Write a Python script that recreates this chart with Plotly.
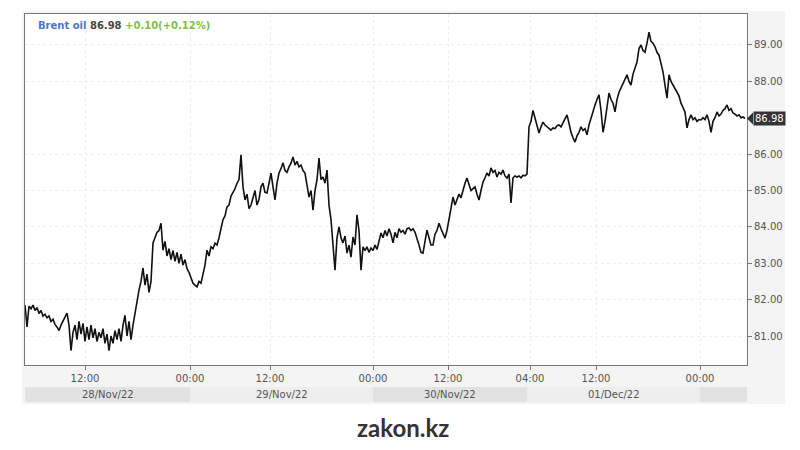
import plotly.graph_objects as go

# Brent oil price, one value per bar (bars are evenly spaced on the axis)
price = [
    81.85, 81.25, 81.82, 81.75, 81.85, 81.70, 81.78, 81.62, 81.70, 81.55,
    81.60, 81.50, 81.55, 81.40, 81.46, 81.32, 81.25, 81.15, 81.30, 81.42,
    81.50, 81.63, 81.30, 80.60, 81.10, 81.30, 80.90, 81.40, 81.05, 81.35,
    80.85, 81.25, 80.90, 81.30, 80.95, 81.20, 80.85, 81.10, 80.95, 81.20,
    80.80, 81.05, 80.60, 81.00, 80.80, 81.15, 80.90, 81.20, 80.85, 81.30,
    81.57, 81.00, 81.40, 80.90, 81.30, 81.66, 81.90, 82.26, 82.50, 82.87,
    82.40, 82.70, 82.20, 82.50, 83.56, 83.70, 83.85, 83.90, 84.10, 83.36,
    83.60, 83.20, 83.40, 83.10, 83.35, 83.05, 83.30, 83.00, 83.25, 82.95,
    83.10, 82.85, 82.75, 82.60, 82.45, 82.40, 82.35, 82.50, 82.45, 82.70,
    82.95, 83.36, 83.20, 83.45, 83.40, 83.55, 83.50, 83.70, 84.00, 84.20,
    84.30, 84.55, 84.60, 84.85, 84.95, 85.05, 85.20, 85.30, 85.98, 85.10,
    84.74, 84.90, 84.50, 84.60, 84.80, 85.00, 84.60, 84.75, 85.10, 85.20,
    84.95, 84.93, 85.20, 85.48, 85.10, 84.74, 85.20, 85.48, 85.60, 85.76,
    85.55, 85.50, 85.65, 85.75, 85.92, 85.70, 85.80, 85.65, 85.70, 85.55,
    85.48, 85.10, 84.82, 85.00, 84.46, 85.00, 85.29, 85.89, 85.30, 85.37,
    85.20, 85.56, 84.60, 84.20, 83.45, 82.81, 83.70, 84.00, 83.70, 83.56,
    83.75, 83.28, 83.50, 83.17, 83.72, 83.50, 84.33, 83.90, 82.81, 83.45,
    83.35, 83.45, 83.30, 83.42, 83.35, 83.50, 83.38, 83.60, 83.83, 83.70,
    83.90, 83.75, 83.95, 83.80, 83.56, 83.85, 83.70, 83.95, 83.85, 83.90,
    83.80, 83.95, 83.97, 83.90, 83.95, 83.85, 83.70, 83.50, 83.30, 83.28,
    83.60, 83.91, 83.70, 83.50, 83.50, 83.80, 83.90, 84.10, 83.95, 83.80,
    83.69, 83.90, 84.19, 84.50, 84.82, 84.60, 84.74, 84.90, 84.80, 85.01,
    85.20, 85.34, 85.15, 85.00, 85.05, 85.10, 84.90, 84.74, 85.00, 85.23,
    85.35, 85.48, 85.40, 85.62, 85.50, 85.55, 85.37, 85.50, 85.45, 85.56,
    85.40, 85.34, 85.45, 84.66, 85.35, 85.40, 85.37, 85.40, 85.35, 85.42,
    85.40, 85.45, 86.75, 86.90, 87.20, 87.00, 86.80, 86.58, 86.75, 86.88,
    86.80, 86.75, 86.70, 86.66, 86.72, 86.70, 86.78, 86.80, 86.75, 86.85,
    86.95, 87.08, 86.85, 86.60, 86.45, 86.33, 86.50, 86.60, 86.75, 86.65,
    86.70, 86.53, 86.80, 87.00, 87.13, 87.35, 87.50, 87.63, 87.20, 86.60,
    86.90, 87.30, 87.68, 87.50, 87.40, 87.16, 87.50, 87.70, 87.82, 87.90,
    88.05, 88.18, 88.00, 87.90, 88.20, 88.40, 88.53, 88.90, 89.00, 88.85,
    88.80, 89.05, 89.35, 89.10, 89.05, 88.95, 88.80, 88.72, 88.50, 88.26,
    87.90, 87.54, 88.18, 88.00, 87.90, 87.80, 87.70, 87.60, 87.40, 87.30,
    87.16, 86.72, 86.95, 87.08, 86.95, 87.00, 86.90, 86.95, 86.94, 87.00,
    86.95, 87.08, 86.90, 86.60, 86.90, 87.00, 87.16, 87.05, 87.10, 87.20,
    87.25, 87.35, 87.20, 87.25, 87.13, 87.10, 87.05, 87.08, 87.00, 87.02,
    86.98,
]
bars = list(range(len(price)))

# x-axis time ticks (bar positions) and labels
tick_bars = [30, 82.5, 122.5, 174, 211.5, 252.5, 285.5, 337.5]
tick_text = ["12:00", "00:00", "12:00", "00:00", "12:00", "04:00", "12:00", "00:00"]

# trading-day bands (bar boundaries) and labels
day_start = [0, 82.5, 174, 251, 337.5]
day_end = [82.5, 174, 251, 337.5, 361]
day_label = ["28/Nov/22", "29/Nov/22", "30/Nov/22", "01/Dec/22", ""]

price_ticks = [81, 82, 83, 84, 85, 86, 88, 89]
last_price = 86.98
change_text = "+0.10(+0.12%)"

X_RANGE = [0, 361]
Y_RANGE = [80.203, 89.852]

W, H = 800, 450
ML, MR, MT, MB = 25, 53, 14, 85
pw, ph = W - ML - MR, H - MT - MB


def px_x(px):
    return (px - ML) / pw


def px_y(py):
    return (H - MB - py) / ph


fig = go.Figure()
fig.add_trace(go.Scatter(
    x=bars, y=price, mode="lines",
    line=dict(color="#111111", width=1.6),
    hoverinfo="skip", showlegend=False,
))

shapes = []
# outer light-grey panel
shapes.append(dict(type="rect", xref="paper", yref="paper",
                   x0=px_x(22), x1=px_x(785), y0=px_y(404), y1=px_y(11),
                   fillcolor="#f4f4f4", line=dict(width=0), layer="below"))
# white plot area
shapes.append(dict(type="rect", xref="paper", yref="paper",
                   x0=0, x1=1, y0=0, y1=1,
                   fillcolor="#ffffff", line=dict(width=0), layer="below"))
# day bands
band_colors = ["#e2e2e2", "#eeeeee", "#e2e2e2", "#eeeeee", "#e2e2e2"]
annotations = []
for s, e, lab, c in zip(day_start, day_end, day_label, band_colors):
    x0 = (s - X_RANGE[0]) / (X_RANGE[1] - X_RANGE[0])
    x1 = (e - X_RANGE[0]) / (X_RANGE[1] - X_RANGE[0])
    shapes.append(dict(type="rect", xref="paper", yref="paper",
                       x0=x0, x1=x1, y0=px_y(402), y1=px_y(387),
                       fillcolor=c, line=dict(width=0), layer="below"))
    if lab:
        annotations.append(dict(x=(x0 + x1) / 2, y=px_y(395), xref="paper", yref="paper",
                                text=lab, showarrow=False,
                                font=dict(family="DejaVu Sans", size=10, color="#555555"),
                                xanchor="center", yanchor="middle"))

# last price marker (arrow box)
yp = (last_price - Y_RANGE[0]) / (Y_RANGE[1] - Y_RANGE[0])
dy = 6 / ph
ax0 = 1.0
ax1 = px_x(753)
shapes.append(dict(type="path", xref="paper", yref="paper",
                   path=f"M {ax0} {yp} L {ax1} {yp + dy} L {ax1} {yp - dy} Z",
                   fillcolor="#333333", line=dict(width=0), layer="above"))
annotations.append(dict(x=ax1, y=yp, xref="paper", yref="paper",
                        text=f"{last_price:.2f}", showarrow=False,
                        bgcolor="#333333", borderpad=1,
                        font=dict(family="DejaVu Sans", size=10, color="#ffffff"),
                        xanchor="left", yanchor="middle"))

# header text
annotations.append(dict(
    x=px_x(36), y=px_y(25), xref="paper", yref="paper",
    text=("<b><span style='color:#4a78c8'>Brent oil</span> "
          f"<span style='color:#444444'>{last_price:.2f}</span> "
          f"<span style='color:#7dbf4a'>{change_text}</span></b>"),
    showarrow=False, xanchor="left", yanchor="middle",
    font=dict(family="DejaVu Sans", size=10),
))

# watermark
annotations.append(dict(
    x=px_x(403), y=px_y(427), xref="paper", yref="paper",
    text="<b>zakon.kz</b>", showarrow=False,
    font=dict(family="Lato", size=24, color="#333333"),
    xanchor="center", yanchor="middle",
))

fig.update_layout(
    width=W, height=H,
    margin=dict(l=ML, r=MR, t=MT, b=MB),
    paper_bgcolor="#ffffff",
    plot_bgcolor="rgba(0,0,0,0)",
    shapes=shapes,
    annotations=annotations,
    showlegend=False,
)
fig.update_xaxes(
    range=X_RANGE, tickmode="array", tickvals=tick_bars, ticktext=tick_text,
    showgrid=True, gridcolor="#eeeeee", griddash="dot", gridwidth=1,
    showline=True, linecolor="#777777", linewidth=1, mirror=True,
    ticks="outside", ticklen=4, tickcolor="#777777",
    tickfont=dict(family="DejaVu Sans", size=10, color="#555555"),
    zeroline=False,
)
fig.update_yaxes(
    range=Y_RANGE, side="right", tickmode="array", tickvals=price_ticks,
    ticktext=[f"{v:.2f}" for v in price_ticks],
    showgrid=True, gridcolor="#eeeeee", griddash="dot", gridwidth=1,
    showline=True, linecolor="#777777", linewidth=1, mirror=True,
    ticks="outside", ticklen=4, tickcolor="#777777",
    tickfont=dict(family="DejaVu Sans", size=10, color="#555555"),
    zeroline=False,
)

fig.write_html("out.html", config={"displayModeBar": False},
               post_script="document.body.style.margin='0';")
